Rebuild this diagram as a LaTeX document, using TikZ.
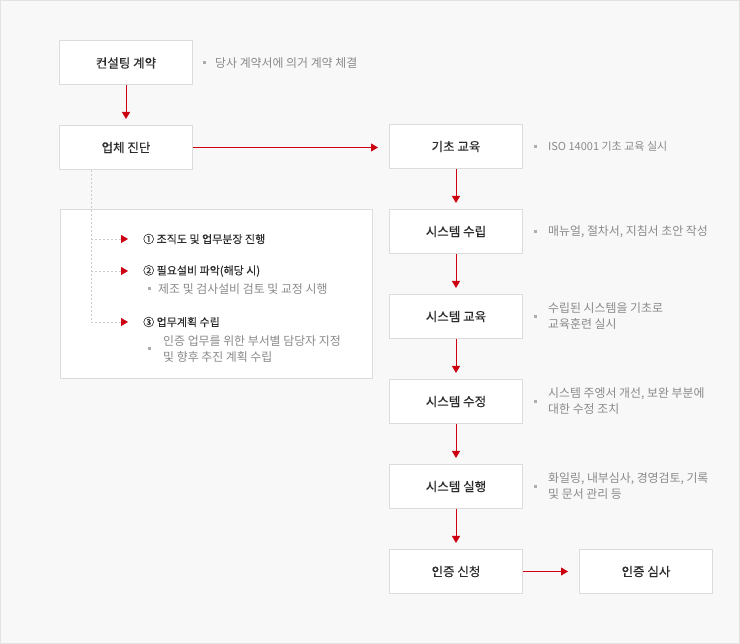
\documentclass[tikz,border=0pt]{standalone}
\usepackage{fontspec}
\setmainfont{Noto Sans CJK KR}
\newfontfamily\titlefont[FakeBold=0.35]{Noto Sans CJK KR}
\newfontfamily\itemfont[FakeBold=0.2]{Noto Sans CJK KR}
\usepackage{tikz}
\usetikzlibrary{arrows.meta}
\usetikzlibrary{calc}
\usetikzlibrary{positioning}
\definecolor{flow-red}{HTML}{CC0011}
\definecolor{flow-line}{HTML}{DCDCDC}
\definecolor{flow-back}{HTML}{F8F8F8}
\definecolor{flow-frame}{HTML}{E3E3E3}
\definecolor{flow-text}{HTML}{2B2B2B}
\definecolor{flow-note}{HTML}{8A8A8A}
\definecolor{flow-dot}{HTML}{CCCCCC}

\begin{document}
\begin{tikzpicture}[x=1pt, y=-1pt, line cap=butt, line join=miter,
    stepbox/.style={draw=flow-line, line width=1pt, fill=white, minimum width=133pt, minimum height=44pt,
        inner sep=0pt, text=flow-text, font=\titlefont\fontsize{12.5}{14}\selectfont},
    notetext/.style={anchor=west, inner sep=0pt, align=left, text=flow-note, font=\fontsize{11.9}{16}\selectfont},
    itemtext/.style={anchor=west, inner sep=0pt, text=flow-text, font=\itemfont\fontsize{11}{14}\selectfont},
    bullet/.style={fill=flow-note!70, minimum size=3pt, inner sep=0pt},
    flow/.style={draw=flow-red, line width=1pt, -{Triangle[width=8pt, length=7pt]}},
    twig/.style={draw=flow-dot, line width=0.8pt, dash pattern=on 2pt off 2pt,
        -{Triangle[width=8pt, length=7pt, color=flow-red]}}]
    % frame
    \useasboundingbox (0,0) rectangle (740,644);
    \fill[flow-back] (0,0) rectangle (740,644);
    \draw[flow-frame, line width=1pt] (0.5,0.5) rectangle (739.5,643.5);

    % left column
    \node[stepbox] (consult) at (126,63) {컨설팅 계약};
    \node[stepbox] (diagnose) at (126,147.5) {업체 진단};
    \node[bullet] (consultdot) at (204,63) {};
    \node[notetext] (consultnote) at (215,63) {당사 계약서에 의거 계약 체결};

    % diagnosis details
    \node[draw=flow-line, line width=1pt, fill=white, minimum width=312pt, minimum height=169pt,
        inner sep=0pt, anchor=north west] (detail) at (59.5,209.5) {};
    \coordinate (trunktop) at (91,170);
    \coordinate (trunk1) at (91,239);
    \coordinate (trunk2) at (91,271);
    \coordinate (trunk3) at (91,322);
    \draw[flow-dot, line width=0.8pt, dash pattern=on 2pt off 2pt] (trunktop) -- (trunk3);
    \node[itemtext] (item1) at (143,239) {① 조직도 및 업무분장 진행};
    \node[itemtext] (item2) at (143,271) {② 필요설비 파악(해당 시)};
    \node[itemtext] (item3) at (143,322) {③ 업무계획 수립};
    \draw[twig] (trunk1) -- ([xshift=-15pt]item1.west);
    \draw[twig] (trunk2) -- ([xshift=-15pt]item2.west);
    \draw[twig] (trunk3) -- ([xshift=-15pt]item3.west);
    \node[bullet] (item2dot) at (149,289) {};
    \node[notetext] (item2note) at (158,289) {제조 및 검사설비 검토 및 교정 시행};
    \node[bullet] (item3dot) at (149,349) {};
    \node[notetext] (item3note) at (163,349) {인증 업무를 위한 부서별 담당자 지정\\및 향후 추진 계획 수립};

    % right column
    \node[stepbox] (basic) at (456,146.5) {기초 교육};
    \node[stepbox] (setup) at (456,231.5) {시스템 수립};
    \node[stepbox] (sysedu) at (456,316.5) {시스템 교육};
    \node[stepbox] (revise) at (456,401.5) {시스템 수정};
    \node[stepbox] (run) at (456,486.5) {시스템 실행};
    \node[stepbox] (apply) at (456,571.5) {인증 신청};
    \node[stepbox] (audit) at (646,571.5) {인증 심사};

    % notes
    \foreach \step/\txt in {basic/{\fontsize{11}{16}\selectfont ISO 14001 기초 교육 실시},
            setup/{매뉴얼, 절차서, 지침서 초안 작성},
            sysedu/{수립된 시스템을 기초로\\교육훈련 실시},
            revise/{시스템 주엥서 개선, 보완 부분에\\대한 수정 조치},
            run/{화일링, 내부심사, 경영검토, 기록\\및 문서 관리 등}} {
        \node[bullet] (\step dot) at ($(\step.east)+(12,0)$) {};
        \node[notetext] (\step note) at ($(\step.east)+(25,0)$) {\txt};
    }

    % arrows
    \draw[flow, shorten >=6pt] (consult) -- (diagnose);
    \draw[flow, shorten >=11pt] (diagnose.east) -- (diagnose.east -| basic.west);
    \draw[flow, shorten >=6pt] (basic) -- (setup);
    \draw[flow, shorten >=6pt] (setup) -- (sysedu);
    \draw[flow, shorten >=6pt] (sysedu) -- (revise);
    \draw[flow, shorten >=6pt] (revise) -- (run);
    \draw[flow, shorten >=6pt] (run) -- (apply);
    \draw[flow, shorten >=11pt] (apply) -- (audit);

\end{tikzpicture}
\end{document}
